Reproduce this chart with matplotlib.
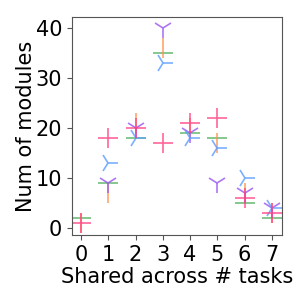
import numpy as np
import matplotlib
matplotlib.use("Agg")
import matplotlib.pyplot as plt

# number of tasks a module is shared across
shared = [0, 1, 2, 3, 4, 5, 6, 7]

# module counts per run (nan = not drawn)
run_green = [2, 9, 18, 35, 19, 18, 5, 2]
run_orange = [1, 7, 21, 36, 20, 17, 7, 3]
run_purple = [np.nan, 9, 20, 40, 19, 9, 7, 4]
run_blue = [np.nan, 13, 18, 33, 18, 16, 10, 4]
run_pink = [1, 18, 20, 17, 21, 22, 6, 3]

series = [
    (run_green, "_", "#4daf5a"),
    (run_orange, "|", "#ff8f4a"),
    (run_purple, "1", "#9a55f0"),
    (run_blue, "4", "#5a9cff"),
    (run_pink, "+", "#ff3d82"),
]

fig = plt.figure(figsize=(2.99, 3.02), dpi=100)
ax = fig.add_axes([0.241, 0.222, 0.702, 0.722])

for vals, mk, col in series:
    ax.plot(shared, vals, linestyle="none", marker=mk, markersize=15,
            markeredgewidth=1.2, color=col, alpha=0.8)

ax.set_xlim(-0.33, 7.37)
ax.set_ylim(-1.3, 42.3)
ax.set_xticks(shared)
ax.set_yticks([0, 10, 20, 30, 40])
ax.tick_params(labelsize=15, color="#555555")
for sp in ax.spines.values():
    sp.set_color("#555555")
ax.set_xlabel("Shared across # tasks", fontsize=15, labelpad=2)
ax.set_ylabel("Num of modules", fontsize=15, labelpad=0)

fig.savefig("out.png", dpi=100)
